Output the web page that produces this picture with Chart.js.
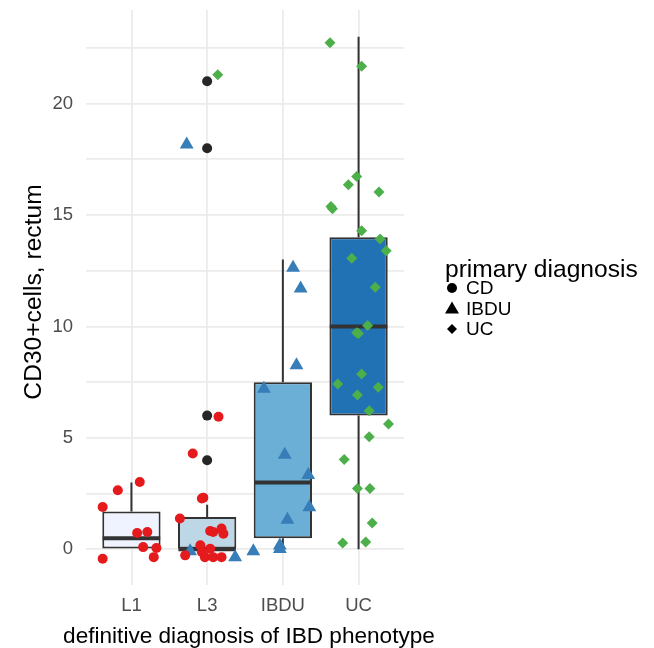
<!DOCTYPE html>
<html>
<head>
<meta charset="utf-8">
<script src="https://cdn.jsdelivr.net/npm/chart.js@4.4.1/dist/chart.umd.min.js"></script>
<style>
  html, body { margin: 0; padding: 0; background: #ffffff; }
  #wrap { width: 654px; height: 648px; }
</style>
</head>
<body>
<div id="wrap"><canvas id="boxChart"></canvas></div>
<script>
// categories of the x axis
const categories = ["L1", "L3", "IBDU", "UC"];

// box statistics per category
const boxQ1 = [0, 0, 0.5, 6];
const boxQ3 = [1.7, 1.45, 7.5, 14];
const boxMedian = [0.5, 0, 3, 10];
const whiskerLow = [0, 0, 0, 0];
const whiskerHigh = [3, 2, 13, 23];
const outliersL3 = [4, 6, 18, 21];

// jittered points: [x jitter, value]
const cdL1 = [[-0.38, 1.9], [-0.18, 2.65], [0.11, 3.02], [-0.38, -0.42], [0.075, 0.73],
  [0.21, 0.78], [0.155, 0.1], [0.33, 0.06], [0.295, -0.35]];
const cdL3 = [[0.15, 5.95], [-0.19, 4.3], [-0.05, 2.32], [-0.07, 2.28], [-0.36, 1.38],
  [0.04, 0.82], [0.08, 0.78], [0.19, 0.93], [0.215, 0.7], [-0.29, -0.27], [-0.09, 0.18],
  [0.04, 0.03], [-0.03, -0.35], [0.08, -0.35], [0.19, -0.35], [-0.07, -0.12]];
const ibduL3 = [[-0.27, 18.17], [-0.225, -0.09], [0.37, -0.36]];
const ibduIBDU = [[0.135, 12.63], [0.235, 11.7], [0.18, 8.26], [-0.25, 7.21], [0.025, 4.24],
  [0.335, 3.34], [0.35, 1.89], [0.06, 1.33], [-0.39, -0.09], [-0.04, 0.17], [-0.04, 0.01]];
const ucL3 = [[0.14, 21.3]];
const ucUC = [[-0.377, 22.73], [0.04, 21.68], [-0.025, 16.73], [-0.135, 16.36], [0.27, 16.03],
  [-0.365, 15.38], [-0.345, 15.28], [0.04, 14.3], [0.285, 13.93], [0.365, 13.4], [-0.09, 13.06],
  [0.22, 11.76], [0.12, 10.04], [0, 9.69], [-0.025, 9.72], [0.04, 7.87], [-0.275, 7.42],
  [0.26, 7.27], [-0.015, 6.92], [0.14, 6.22], [0.395, 5.62], [0.14, 5.05], [-0.19, 4.03],
  [-0.015, 2.73], [0.15, 2.73], [0.18, 1.18], [-0.21, 0.28], [0.095, 0.33]];

const legendLabels = ["CD", "IBDU", "UC"];
const boxColors = ["#eff3ff", "#bdd7e7", "#6baed6", "#2171b5"];
const FONT = "'Liberation Sans', Arial, sans-serif";

function placePoints(list, catIndex) {
  return list.map(([jit, v]) => ({ x: catIndex + 1 + jit, y: v }));
}

function segments(pairs) {
  const out = [];
  pairs.forEach(([a, b]) => {
    out.push(a, b, { x: a.x, y: null });
  });
  return out;
}

const boxData = categories.map((c, i) => ({ x: i + 1, y: [boxQ1[i], boxQ3[i]] }));
const medianData = segments(categories.map((c, i) => [
  { x: i + 1 - 0.38, y: boxMedian[i] }, { x: i + 1 + 0.38, y: boxMedian[i] }]));
const whiskerPairs = [];
categories.forEach((c, i) => {
  if (whiskerHigh[i] > boxQ3[i]) whiskerPairs.push([{ x: i + 1, y: boxQ3[i] }, { x: i + 1, y: whiskerHigh[i] }]);
  if (whiskerLow[i] < boxQ1[i]) whiskerPairs.push([{ x: i + 1, y: boxQ1[i] }, { x: i + 1, y: whiskerLow[i] }]);
});
const whiskerData = segments(whiskerPairs);
const outlierData = outliersL3.map((v) => ({ x: 2, y: v }));

// axis titles and legend drawn by hand, so the titles are not squeezed to the plot size
const textPlugin = {
  id: "shapeLegend",
  afterDraw(chart) {
    const ctx = chart.ctx;
    const area = chart.chartArea;
    ctx.save();
    ctx.fillStyle = "#000000";
    ctx.textBaseline = "alphabetic";
    ctx.textAlign = "center";
    ctx.font = "22.6px " + FONT;
    ctx.fillText("definitive diagnosis of IBD phenotype", (area.left + area.right) / 2 + 4, 643);

    ctx.save();
    ctx.translate(41, 292);
    ctx.rotate(-Math.PI / 2);
    ctx.font = "24.6px " + FONT;
    ctx.fillText("CD30+cells, rectum", 0, 0);
    ctx.restore();

    ctx.textAlign = "left";
    ctx.font = "24.6px " + FONT;
    ctx.fillText("primary diagnosis", 445, 277);
    ctx.font = "19px " + FONT;
    ctx.textBaseline = "middle";
    legendLabels.forEach((label, i) => {
      const y = 288 + i * 20.5;
      const x = 452;
      ctx.beginPath();
      if (i === 0) {
        ctx.arc(x, y, 5, 0, Math.PI * 2);
      } else if (i === 1) {
        ctx.moveTo(x, y - 7);
        ctx.lineTo(x + 7, y + 5);
        ctx.lineTo(x - 7, y + 5);
        ctx.closePath();
      } else {
        ctx.moveTo(x, y - 5);
        ctx.lineTo(x + 5, y);
        ctx.lineTo(x, y + 5);
        ctx.lineTo(x - 5, y);
        ctx.closePath();
      }
      ctx.fill();
      ctx.fillText(label, 466, y + 1);
    });
    ctx.restore();
  },
};

new Chart(document.getElementById("boxChart"), {
  type: "scatter",
  data: {
    datasets: [
      {
        label: "CD",
        data: placePoints(cdL1, 0).concat(placePoints(cdL3, 1)),
        pointStyle: "circle",
        pointRadius: 5,
        backgroundColor: "#e41a1c",
        borderColor: "#e41a1c",
        borderWidth: 0,
        order: 0,
      },
      {
        label: "IBDU",
        data: placePoints(ibduL3, 1).concat(placePoints(ibduIBDU, 2)),
        pointStyle: "triangle",
        pointRadius: 8,
        backgroundColor: "#377eb8",
        borderColor: "#377eb8",
        borderWidth: 0,
        order: 0,
      },
      {
        label: "UC",
        data: placePoints(ucL3, 1).concat(placePoints(ucUC, 3)),
        pointStyle: "rectRot",
        pointRadius: 5.5,
        backgroundColor: "#4daf4a",
        borderColor: "#4daf4a",
        borderWidth: 0,
        order: 0,
      },
      {
        label: "outliers",
        data: outlierData,
        pointStyle: "circle",
        pointRadius: 5,
        backgroundColor: "#262626",
        borderWidth: 0,
        order: 1,
      },
      {
        label: "median",
        data: medianData,
        showLine: true,
        pointRadius: 0,
        borderColor: "#333333",
        borderWidth: 4,
        borderCapStyle: "butt",
        order: 2,
      },
      {
        type: "bar",
        label: "box",
        data: boxData,
        backgroundColor: boxColors,
        borderColor: "#333333",
        borderWidth: 2,
        borderSkipped: false,
        barPercentage: 0.77,
        categoryPercentage: 1,
        order: 3,
      },
      {
        label: "whisker",
        data: whiskerData,
        showLine: true,
        pointRadius: 0,
        borderColor: "#333333",
        borderWidth: 2,
        order: 4,
      },
    ],
  },
  options: {
    responsive: true,
    maintainAspectRatio: false,
    animation: false,
    layout: { padding: { top: 10, right: 250, left: 0, bottom: 0 } },
    plugins: {
      legend: { display: false },
      tooltip: { enabled: false },
    },
    scales: {
      x: {
        type: "linear",
        min: 0.4,
        max: 4.6,
        offset: false,
        afterBuildTicks(axis) {
          axis.ticks = categories.map((c, i) => ({ value: i + 1 }));
        },
        afterFit(axis) {
          axis.height = 63;
          axis.paddingLeft = 0;
          axis.paddingRight = 0;
        },
        ticks: {
          callback: (value) => categories[value - 1] ?? "",
          color: "#4d4d4d",
          font: { family: FONT, size: 18.5 },
          padding: 10,
          maxRotation: 0,
          autoSkip: false,
        },
        grid: { color: "#ebebeb", lineWidth: 1.8, drawTicks: false, offset: false },
        border: { display: false },
      },
      y: {
        min: -1.6,
        max: 24.2,
        afterBuildTicks(axis) {
          const t = [];
          for (let v = 0; v <= 22.5; v += 2.5) t.push({ value: v });
          axis.ticks = t;
        },
        afterFit(axis) {
          axis.width = 86;
          axis.paddingTop = 0;
          axis.paddingBottom = 0;
        },
        ticks: {
          callback: (value) => (value % 5 === 0 ? String(value) : ""),
          color: "#4d4d4d",
          font: { family: FONT, size: 18.5 },
          padding: 13,
        },
        grid: { color: "#ebebeb", lineWidth: 1.8, drawTicks: false },
        border: { display: false },
      },
    },
  },
  plugins: [textPlugin],
});
</script>
</body>
</html>
